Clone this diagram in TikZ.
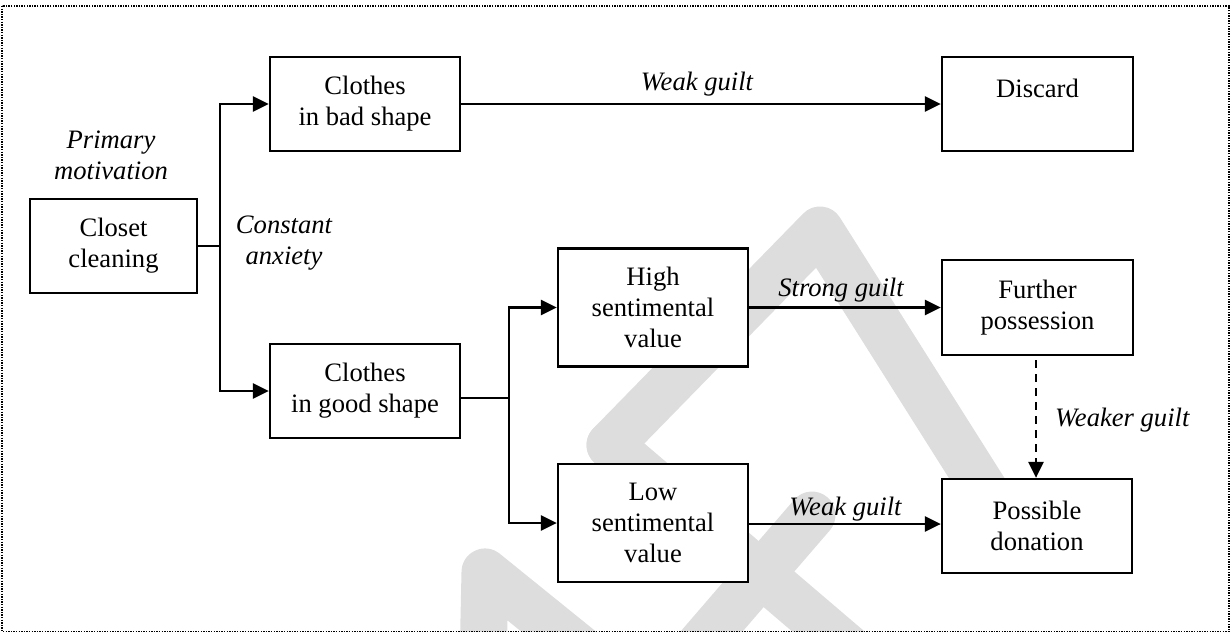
\documentclass[tikz,border=0pt]{standalone}
\usepackage{fontspec}
\setmainfont{Liberation Serif}
\usetikzlibrary{arrows.meta}
\definecolor{wm}{RGB}{221,221,221}
\begin{document}
\begin{tikzpicture}[x=1pt,y=-1pt,
  box/.style={draw,line width=2.3pt,fill=white,inner sep=0pt,align=center,
    font=\fontsize{26.6}{31}\selectfont},
  lbl/.style={inner sep=0pt,align=center,font=\fontsize{26.6}{31}\selectfont\itshape},
  conn/.style={line width=2.4pt,-{Triangle[length=16pt,width=15pt]}},
  wire/.style={line width=2.4pt},
  wmark/.style={line width=47pt,wm,line cap=round,line join=round}]
\useasboundingbox (0,0) rectangle (1231,633);
% watermark
\begin{scope}
\clip (3,7) rectangle (1228,631);
\draw[wmark] (610,445) -- (820,230) -- (1019,545);
\draw[wmark] (610,445) -- (870,667);
\draw[wmark] (812,515) -- (687,660);
\draw[wmark] (483,665) -- (485,572) -- (600,665);
\end{scope}
% frame
\draw[line width=1.4pt,dash pattern=on 1.4pt off 1.2pt] (2,6) rectangle (1229,631.5);
% boxes
\node[box,minimum width=167pt,minimum height=94pt] (closet) at (113.5,246) {Closet\\cleaning};
\node[box,minimum width=190pt,minimum height=94pt] (bad) at (365,104) {Clothes\\in bad shape};
\node[box,minimum width=190pt,minimum height=94pt] (good) at (365,391) {Clothes\\in good shape};
\node[box,minimum width=191pt,minimum height=94pt] (discard) at (1037.5,104) {Discard\\\mbox{}};
\node[box,minimum width=190pt,minimum height=118pt] (high) at (653,307.5) {High\\sentimental\\value};
\node[box,minimum width=190pt,minimum height=118pt] (low) at (653,523) {Low\\sentimental\\value};
\node[box,minimum width=191pt,minimum height=95pt] (further) at (1037.5,307.5) {Further\\possession};
\node[box,minimum width=190pt,minimum height=94pt] (possible) at (1037,526) {Possible\\donation};
% labels
\node[lbl] (primary) at (111,155) {Primary\\motivation};
\node[lbl] (anxiety) at (284,243) {Constant\\anxiety};
\node[lbl,anchor=base] (wg1) at (697,90) {Weak guilt};
\node[lbl,anchor=base] (sg) at (841,296.7) {Strong guilt};
\node[lbl,anchor=base] (wg2) at (845.5,515) {Weak guilt};
\node[lbl,anchor=base west] (wkg) at (1055,426) {Weaker guilt};
% connectors
\coordinate (j1) at (220,246);
\coordinate (j2) at (509,397.7);
\draw[wire] (closet.east) -- (j1);
\draw[conn] (j1) |- (bad.west);
\draw[conn] (j1) |- (good.west);
\draw[conn] (bad.east) -- (discard.west);
\draw[wire] ([yshift=-6.7pt]good.east) -- (j2);
\draw[conn] (j2) |- (high.west);
\draw[conn] (j2) |- (low.west);
\draw[conn] (high.east) -- (further.west);
\draw[conn] ([yshift=-1pt]low.east) -- ([yshift=-1pt]low.east -| possible.west);
\draw[conn,dash pattern=on 8pt off 6pt,shorten <=4pt] ([xshift=-1.5pt]further.south) -- ([xshift=-1.5pt]further.south |- possible.north);
\end{tikzpicture}
\end{document}
